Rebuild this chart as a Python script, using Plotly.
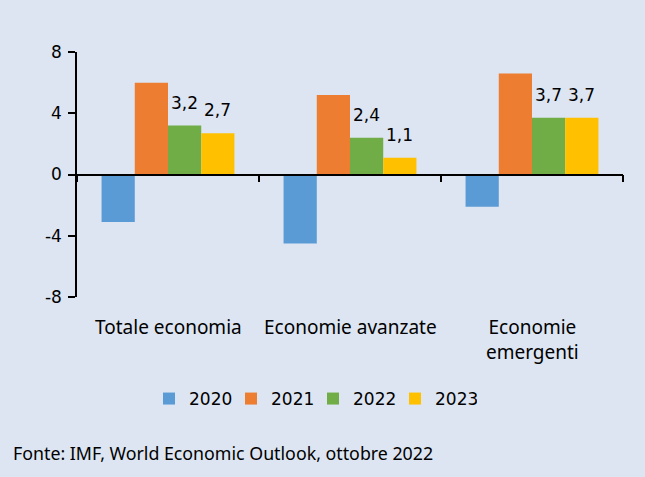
import plotly.graph_objects as go

categories = ["Totale economia", "Economie avanzate", "Economie<br>emergenti"]
years = ["2020", "2021", "2022", "2023"]
v2020 = [-3.1, -4.5, -2.1]
v2021 = [6.0, 5.2, 6.6]
v2022 = [3.2, 2.4, 3.7]
v2023 = [2.7, 1.1, 3.7]
y_ticks = [-8, -4, 0, 4, 8]
labelled_years = ["2022", "2023"]
source_note = "Fonte: IMF, World Economic Outlook, ottobre 2022"

series = {"2020": v2020, "2021": v2021, "2022": v2022, "2023": v2023}
colors = {"2020": "#5b9bd5", "2021": "#ed7d31", "2022": "#70ad47", "2023": "#ffc000"}

W, H = 645, 477
ML, MR, MT, MB = 77, 22, 52, 180
BG = "#dce5f1"
BARGAP = 0.27
NUM_FONT = "DejaVu Sans"
TXT_FONT = "Noto Sans"

plot_w = W - ML - MR
plot_h = H - MT - MB


def px_to_paper_x(px):
    return (px - ML) / plot_w


def px_to_paper_y(py):
    return (H - MB - py) / plot_h


fig = go.Figure()
for yr in years:
    fig.add_trace(go.Bar(
        x=categories, y=series[yr], name=yr,
        marker=dict(color=colors[yr], line=dict(width=0)),
    ))

# data labels for 2022 and 2023 placed above the bars
cat_px = plot_w / len(categories)
bar_px = cat_px * (1 - BARGAP) / len(years)
annotations = []
for yr in labelled_years:
    i = years.index(yr)
    for j, cat in enumerate(categories):
        v = series[yr][j]
        annotations.append(dict(
            x=cat, y=v, xref="x", yref="y",
            text=f"{v:.1f}".replace(".", ","),
            showarrow=False, xshift=(i - (len(years) - 1) / 2) * bar_px,
            yanchor="bottom", yshift=11,
            font=dict(family=NUM_FONT, size=17, color="#000000"),
        ))

# category labels below the plot area
for cat in categories:
    annotations.append(dict(
        x=cat, y=0, xref="x", yref="paper", text=cat, showarrow=False,
        yanchor="top", yshift=-15,
        font=dict(family=TXT_FONT, size=19, color="#000000"),
    ))

annotations.append(dict(
    x=px_to_paper_x(11), y=px_to_paper_y(467), xref="paper", yref="paper",
    text=source_note, showarrow=False, xanchor="left", yanchor="bottom",
    font=dict(family=TXT_FONT, size=17.8, color="#000000"),
))

fig.update_layout(
    width=W, height=H,
    margin=dict(l=ML, r=MR, t=MT, b=MB),
    paper_bgcolor=BG, plot_bgcolor=BG,
    barmode="group", bargap=BARGAP, bargroupgap=0,
    showlegend=True,
    legend=dict(
        orientation="h", xref="container", yref="container",
        x=149 / W, y=1 - 399 / H, xanchor="left", yanchor="middle",
        font=dict(family=NUM_FONT, size=17, color="#000000"),
        bgcolor="rgba(0,0,0,0)", entrywidth=37, tracegroupgap=0,
    ),
    annotations=annotations,
    xaxis=dict(
        type="category", anchor="free", position=0.5,
        showline=True, linecolor="#000000", linewidth=1.5,
        ticks="outside", tickson="boundaries", ticklen=7, tickwidth=1.5,
        tickcolor="#000000", showticklabels=False, showgrid=False,
        zeroline=False, range=[-0.5, len(categories) - 0.5],
    ),
    yaxis=dict(
        range=[-8, 8], tickvals=y_ticks, ticktext=[str(t) for t in y_ticks],
        showline=True, linecolor="#000000", linewidth=1.5,
        ticks="outside", ticklen=7, tickwidth=1.5, tickcolor="#000000",
        showgrid=False, zeroline=False,
        tickfont=dict(family=NUM_FONT, size=17, color="#000000"),
        ticklabelstandoff=3,
    ),
)

fig.write_html(
    "out.html",
    config={"displayModeBar": False},
    post_script="document.body.style.margin='0';document.body.style.padding='0';"
                "document.body.style.background='" + BG + "';",
)
